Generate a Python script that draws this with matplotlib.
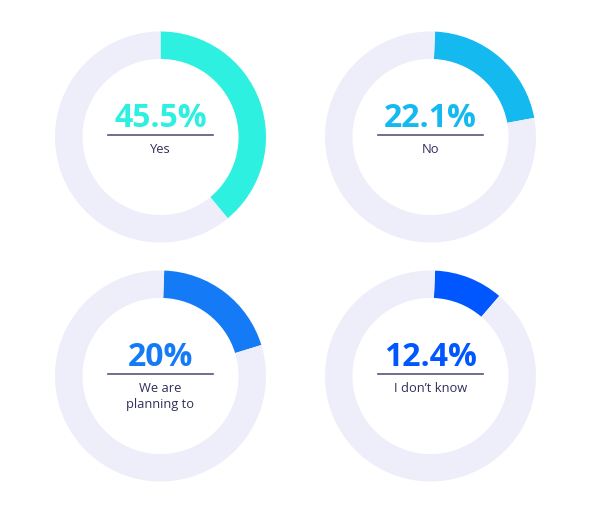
import matplotlib.pyplot as plt

labels = ["Yes", "No", "We are\nplanning to", "I don\u2019t know"]
value_text = ["45.5%", "22.1%", "20%", "12.4%"]
# arc shares as drawn in the picture (not identical to the printed numbers)
arc_share = [39.0, 21.4, 19.7, 10.6]
colors = ["#2EF0E0", "#14B9F0", "#157AF6", "#0057FF"]
track = "#EEEDFA"
navy = "#2F2F5B"

W, H = 589, 514
centers = [(160.5, 137), (430.5, 137), (160.5, 376), (430.5, 376)]
start_angles = [90, 87.5, 88, 87.5]
R = 105.5

fig = plt.figure(figsize=(W / 100, H / 100), dpi=100)
for (cx, cy), st, lab, v, vt, c in zip(centers, start_angles, labels, arc_share, value_text, colors):
    ax = fig.add_axes([(cx - R) / W, 1 - (cy + R) / H, 2 * R / W, 2 * R / H])
    ax.pie([v, 100 - v], colors=[c, track], startangle=st, counterclock=False,
           radius=1.0, wedgeprops=dict(width=0.26, linewidth=0))
    ax.set_xlim(-1, 1)
    ax.set_ylim(-1, 1)
    ax.set_aspect("equal")
    ax.axis("off")
    ax.text(0, 0.095, vt, ha="center", va="baseline", color=c,
            fontsize=23, fontweight="bold", family="Open Sans")
    ax.plot([-0.5, 0.5], [0.02, 0.02], color="#55557A", linewidth=1.2)
    ax.text(0, -0.06, lab, ha="center", va="top", color=navy,
            fontsize=9.3, family="Open Sans", linespacing=1.25)

fig.savefig("out.png", dpi=100, facecolor="white")
